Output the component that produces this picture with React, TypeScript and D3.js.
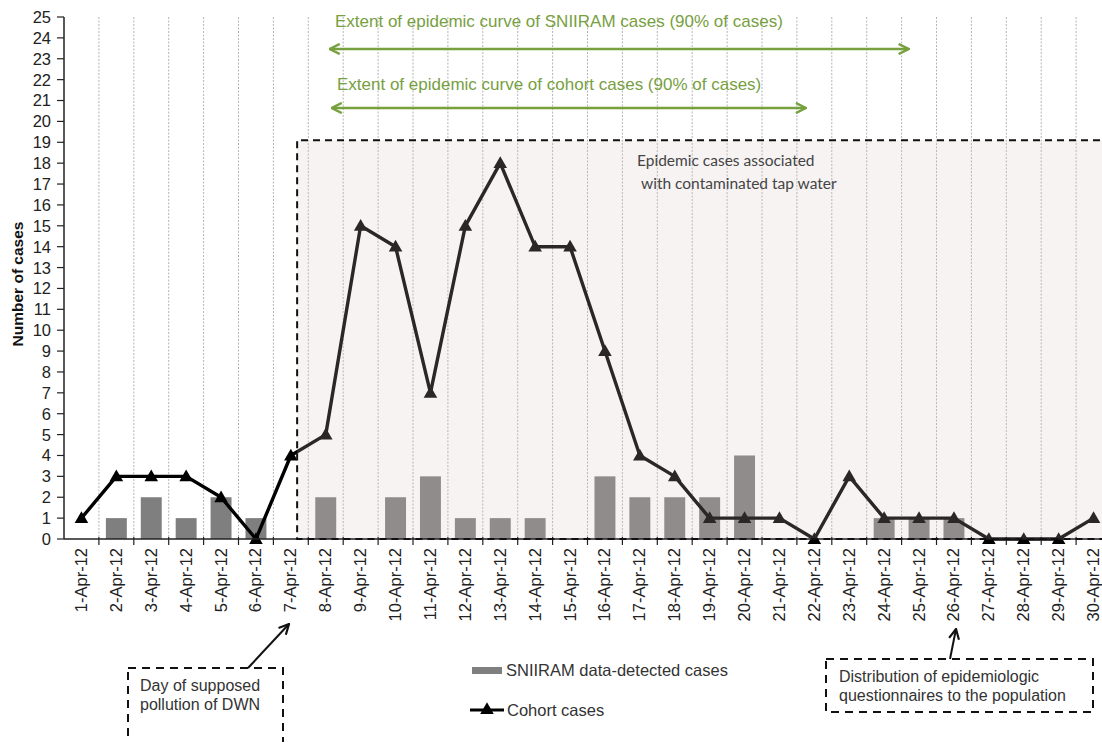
import React from 'react';
import * as d3 from 'd3';

// Days of April 2012 (x categories)
const days = [
  '1-Apr-12', '2-Apr-12', '3-Apr-12', '4-Apr-12', '5-Apr-12', '6-Apr-12', '7-Apr-12', '8-Apr-12',
  '9-Apr-12', '10-Apr-12', '11-Apr-12', '12-Apr-12', '13-Apr-12', '14-Apr-12', '15-Apr-12',
  '16-Apr-12', '17-Apr-12', '18-Apr-12', '19-Apr-12', '20-Apr-12', '21-Apr-12', '22-Apr-12',
  '23-Apr-12', '24-Apr-12', '25-Apr-12', '26-Apr-12', '27-Apr-12', '28-Apr-12', '29-Apr-12',
  '30-Apr-12',
];

// SNIIRAM data-detected cases (bars)
const sniiramCases = [0, 1, 2, 1, 2, 1, 0, 2, 0, 2, 3, 1, 1, 1, 0, 3, 2, 2, 2, 4, 0, 0, 0, 1, 1, 1, 0, 0, 0, 0];

// Cohort cases (line)
const cohortCases = [1, 3, 3, 3, 2, 0, 4, 5, 15, 14, 7, 15, 18, 14, 14, 9, 4, 3, 1, 1, 1, 0, 3, 1, 1, 1, 0, 0, 0, 1];

const yTicks = d3.range(0, 26);

const W = 1102;
const H = 742;
const green = '#77a03f';
const axisFont = '"Liberation Sans", Arial, sans-serif';

const App: React.FC = () => {
  const x = d3.scaleBand<string>().domain(days).range([64, 1111]).padding(0);
  const y = d3.scaleLinear().domain([0, 25]).range([539, 17]);
  const bw = x.bandwidth();
  const cx = (d: string) => (x(d) as number) + bw / 2;
  const barW = bw * 0.6;

  const line = d3
    .line<number>()
    .x((_, i) => cx(days[i]))
    .y(d => y(d));

  const tri = d3.symbol().type(d3.symbolTriangle).size(80)();

  const boundaries = days.map(d => x(d) as number).slice(1).concat([x(days[29])! + bw]);

  // epidemic box
  const boxLeft = (x('7-Apr-12') as number) + bw * 0.68;
  const boxTop = y(19.1);

  const sniiStart = cx('8-Apr-12') + 4;
  const sniiEnd = (x('25-Apr-12') as number) + 7;
  const cohStart = cx('8-Apr-12') + 6;
  const cohEnd = (x('22-Apr-12') as number) + 9;

  return (
    <div style={{ position: 'absolute', left: 0, top: 0 }}>
      <svg width={W} height={H} style={{ display: 'block', background: '#fff' }}>
        <defs>
          <marker id="gArrow" viewBox="0 0 12 12" refX="11" refY="6" markerWidth="12" markerHeight="12"
            markerUnits="userSpaceOnUse" orient="auto-start-reverse">
            <path d="M1,1 L11,6 L1,11" fill="none" stroke={green} strokeWidth={2.5} />
          </marker>
          <marker id="kArrow" viewBox="0 0 12 12" refX="11" refY="6" markerWidth="12" markerHeight="12"
            markerUnits="userSpaceOnUse" orient="auto">
            <path d="M1,1 L11,6 L1,11" fill="none" stroke="#111" strokeWidth={2.2} />
          </marker>
        </defs>

        {/* vertical dotted gridlines */}
        {boundaries.map((b, i) => (
          <line key={i} x1={b} x2={b} y1={y(25)} y2={y(0)} stroke="#b4b4b4" strokeWidth={1} strokeDasharray="2,1.5" />
        ))}

        {/* bars */}
        {sniiramCases.map((v, i) =>
          v > 0 ? (
            <rect key={i} x={cx(days[i]) - barW / 2} y={y(v)} width={barW} height={y(0) - y(v)} fill="#7f7f7f" />
          ) : null
        )}

        {/* cohort line */}
        <path d={line(cohortCases) || ''} fill="none" stroke="#000" strokeWidth={3.4} strokeLinejoin="round" />
        {cohortCases.map((v, i) => (
          <path key={i} d={tri || ''} transform={`translate(${cx(days[i])},${y(v) + 1})`} fill="#000" />
        ))}

        {/* epidemic period overlay */}
        <rect x={boxLeft} y={boxTop} width={W - boxLeft + 20} height={y(0) - boxTop} fill="rgb(215,195,195)" fillOpacity={0.2} />

        {/* y axis */}
        <line x1={64} x2={64} y1={y(25)} y2={y(0)} stroke="#222" strokeWidth={1.5} />
        {yTicks.map(t => (
          <g key={t}>
            <line x1={57} x2={64} y1={y(t)} y2={y(t)} stroke="#222" strokeWidth={1.2} />
            <text x={51} y={y(t)} dy="0.36em" textAnchor="end" fontFamily={axisFont} fontSize={16.5} fill="#222">
              {t}
            </text>
          </g>
        ))}
        <text transform={`translate(23,284) rotate(-90)`} textAnchor="middle" fontFamily={axisFont} fontSize={15.5}
          fontWeight="bold" fill="#111">
          Number of cases
        </text>

        {/* x axis */}
        <line x1={64} x2={1111} y1={y(0)} y2={y(0)} stroke="#222" strokeWidth={1.5} />
        {boundaries.map((b, i) => (
          <line key={i} x1={b} x2={b} y1={y(0) - 2} y2={y(0) + 6} stroke="#222" strokeWidth={1.2} />
        ))}
        {days.map(d => (
          <text key={d} transform={`translate(${cx(d) + 5.5},${y(0) + 9}) rotate(-90)`} textAnchor="end"
            fontFamily={axisFont} fontSize={16.5} fill="#222">
            {d}
          </text>
        ))}

        {/* dashed box of epidemic cases */}
        <path d={`M${W + 10},${boxTop} L${boxLeft},${boxTop} L${boxLeft},${y(0)} L${W + 10},${y(0)}`} fill="none"
          stroke="#111" strokeWidth={2} strokeDasharray="7,5" />
        <text fontFamily="Lato, 'Open Sans', sans-serif" fontSize={15.5} fill="#444">
          <tspan x={637} y={166}>Epidemic cases associated</tspan>
          <tspan x={641} y={189}>with contaminated tap water</tspan>
        </text>

        {/* extent arrows */}
        <text x={335} y={27} fontFamily={axisFont} fontSize={17} fill={green}>
          Extent of epidemic curve of SNIIRAM cases (90% of cases)
        </text>
        <line x1={sniiStart} x2={sniiEnd} y1={49} y2={49} stroke={green} strokeWidth={2.5}
          markerStart="url(#gArrow)" markerEnd="url(#gArrow)" />
        <text x={337} y={90} fontFamily={axisFont} fontSize={17} fill={green}>
          Extent of epidemic curve of cohort cases (90% of cases)
        </text>
        <line x1={cohStart} x2={cohEnd} y1={108} y2={108} stroke={green} strokeWidth={2.5}
          markerStart="url(#gArrow)" markerEnd="url(#gArrow)" />

        {/* annotation: day of pollution */}
        <rect x={128} y={668} width={155} height={110} fill="none" stroke="#111" strokeWidth={2} strokeDasharray="8,6" />
        <text fontFamily={axisFont} fontSize={16} fill="#333">
          <tspan x={140} y={691}>Day of supposed</tspan>
          <tspan x={140} y={710}>pollution of DWN</tspan>
        </text>
        <line x1={248} y1={668} x2={289} y2={624} stroke="#111" strokeWidth={2} markerEnd="url(#kArrow)" />

        {/* annotation: questionnaires */}
        <rect x={826} y={659} width={267} height={53} fill="none" stroke="#111" strokeWidth={2} strokeDasharray="8,6" />
        <text fontFamily={axisFont} fontSize={16} fill="#333">
          <tspan x={839} y={682}>Distribution of epidemiologic</tspan>
          <tspan x={839} y={701}>questionnaires to the population</tspan>
        </text>
        <line x1={950} y1={659} x2={956} y2={629} stroke="#111" strokeWidth={2} markerEnd="url(#kArrow)" />

        {/* legend */}
        <rect x={472} y={667} width={30} height={7} fill="#7f7f7f" />
        <text x={506} y={676} fontFamily={axisFont} fontSize={16.5} fill="#333">
          SNIIRAM data-detected cases
        </text>
        <line x1={470} x2={504} y1={710} y2={710} stroke="#000" strokeWidth={3} />
        <path d={tri || ''} transform="translate(487,710)" fill="#000" />
        <text x={507} y={716} fontFamily={axisFont} fontSize={16.5} fill="#333">
          Cohort cases
        </text>
      </svg>
    </div>
  );
};

export default App;
